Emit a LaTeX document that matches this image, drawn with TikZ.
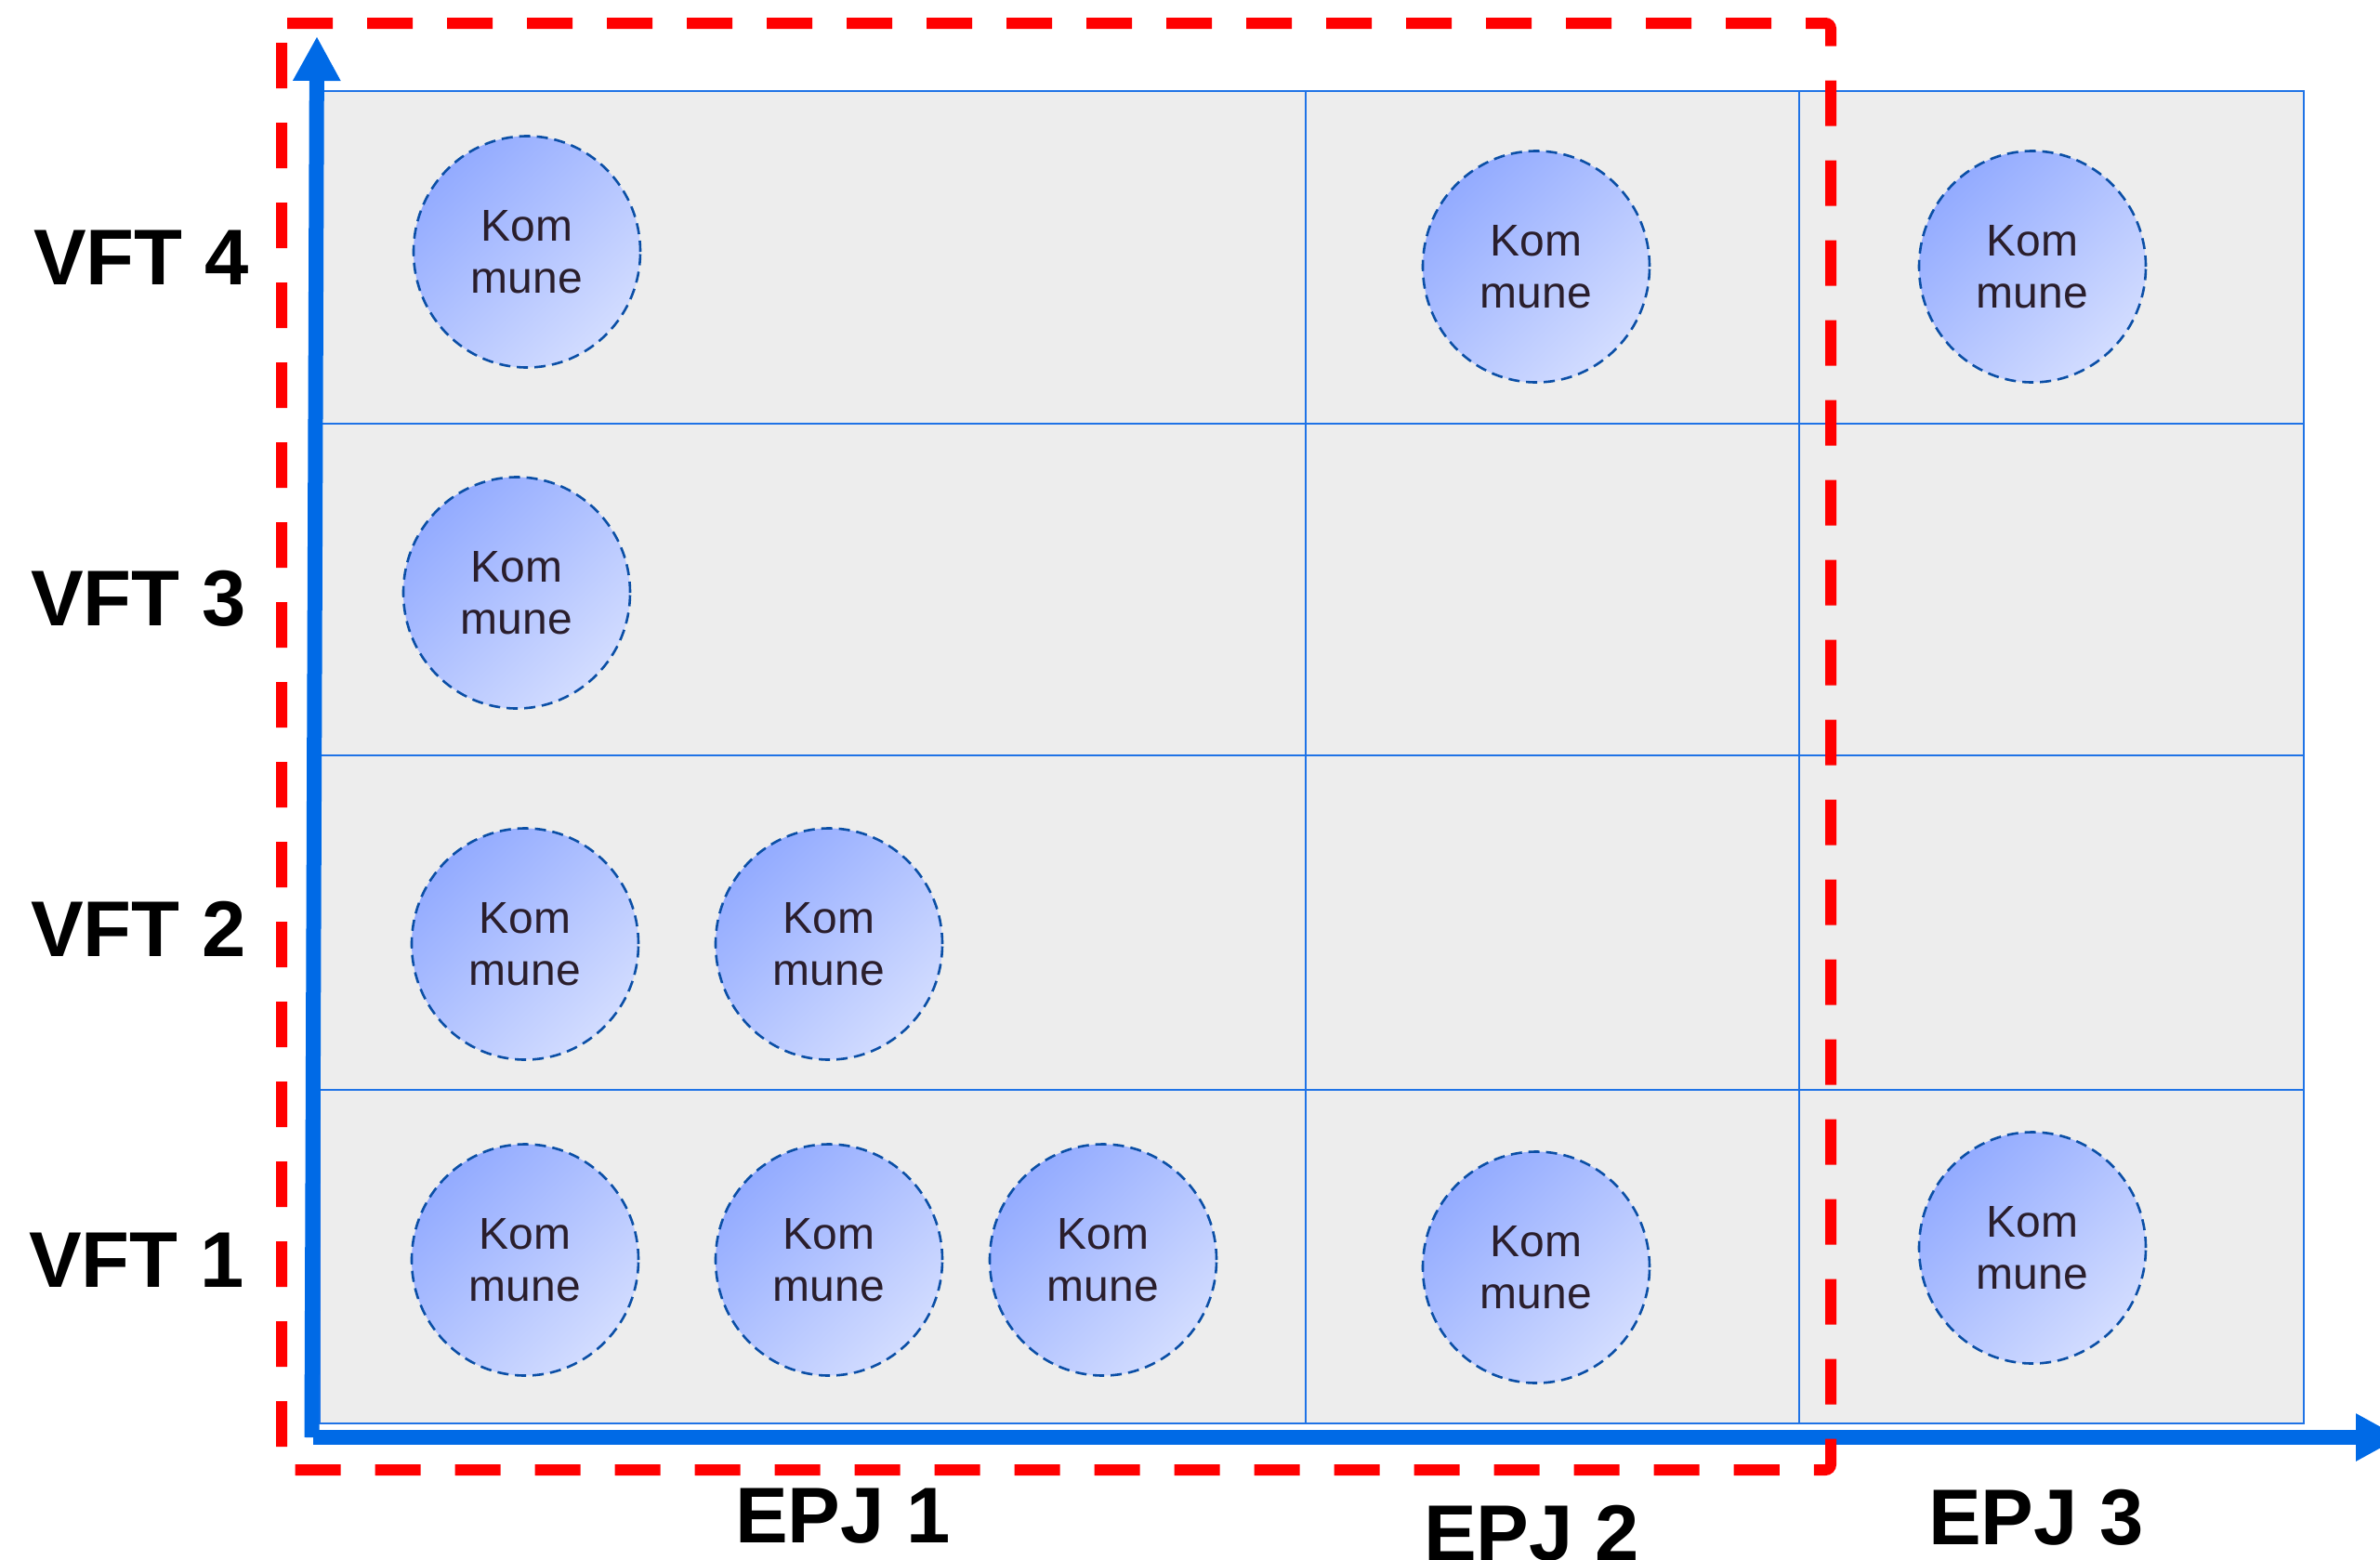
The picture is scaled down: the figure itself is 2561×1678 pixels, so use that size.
\documentclass[tikz,border=0pt]{standalone}
\usepackage{fontspec}
\setmainfont{Liberation Sans}
\usetikzlibrary{arrows.meta,shapes.geometric}
\definecolor{axisblue}{HTML}{006AE6}
\definecolor{gridblue}{HTML}{1F73E6}
\definecolor{cellgray}{HTML}{EDEDED}
\definecolor{ringblue}{HTML}{0B4FA6}
\definecolor{fillA}{HTML}{93ABFF}
\definecolor{fillB}{HTML}{D2DCFF}
\definecolor{inkdark}{HTML}{2A1E2C}
\definecolor{framered}{HTML}{FF0000}
\begin{document}
\begin{tikzpicture}[x=0.5pt,y=-0.5pt,
  kommune/.style={ellipse, minimum width=122pt, minimum height=124.5pt, inner sep=0pt,
    draw=ringblue, line width=1.3pt, dash pattern=on 6pt off 3.5pt,
    top color=fillA, bottom color=fillB, shading angle=45,
    text=inkdark, align=center, font=\fontsize{24pt}{28pt}\selectfont},
  axislabel/.style={font=\fontsize{42.5pt}{48pt}\selectfont\bfseries, text=black, inner sep=0pt},
  axisline/.style={draw=axisblue, line width=8pt, -{Triangle[width=24pt,length=24pt]}},
  gridline/.style={draw=gridblue, line width=1.2pt},
  frameline/.style={draw=framered, line width=6pt, dash pattern=on 24.5pt off 18.5pt, rounded corners=3pt}
]
\useasboundingbox (0,0) rectangle (2561,1678);

% matrix of cells
\fill[cellgray] (344,98) rectangle (2479,1532);
\draw[gridline] (344,98) rectangle (2479,1532);
\draw[gridline] (1405,98) -- (1405,1532);
\draw[gridline] (1936,98) -- (1936,1532);
\draw[gridline] (344,456) -- (2479,456);
\draw[gridline] (344,813) -- (2479,813);
\draw[gridline] (344,1173) -- (2479,1173);

% municipalities
\node[kommune] (k41) at (567,271) {Kom\\mune};
\node[kommune] (k42) at (1653,287) {Kom\\mune};
\node[kommune] (k43) at (2187,287) {Kom\\mune};
\node[kommune] (k31) at (556,638) {Kom\\mune};
\node[kommune] (k21) at (565,1016) {Kom\\mune};
\node[kommune] (k22) at (892,1016) {Kom\\mune};
\node[kommune] (k11) at (565,1356) {Kom\\mune};
\node[kommune] (k12) at (892,1356) {Kom\\mune};
\node[kommune] (k13) at (1187,1356) {Kom\\mune};
\node[kommune] (k14) at (1653,1364) {Kom\\mune};
\node[kommune] (k15) at (2187,1343) {Kom\\mune};

% axes
\coordinate (origin) at (335.5,1547);
\coordinate (ytip) at (341,39);
\coordinate (xstart) at (337,1547);
\coordinate (xtip) at (2583,1547);
\draw[axisline] (origin) -- (ytip);
\draw[axisline] (xstart) -- (xtip);

% row labels
\node[axislabel] (vft4) at (152,277) {VFT 4};
\node[axislabel] (vft3) at (149,644) {VFT 3};
\node[axislabel] (vft2) at (149,1000) {VFT 2};
\node[axislabel] (vft1) at (147,1356) {VFT 1};

% column labels
\node[axislabel] (epj1) at (907,1632) {EPJ 1};
\node[axislabel] (epj2) at (1648,1650) {EPJ 2};
\node[axislabel] (epj3) at (2191,1633) {EPJ 3};

% dashed selection frame
\draw[frameline] (303,25) -- (1970,25) -- (1970,1582) -- (303,1582) -- cycle;
\end{tikzpicture}
\end{document}
